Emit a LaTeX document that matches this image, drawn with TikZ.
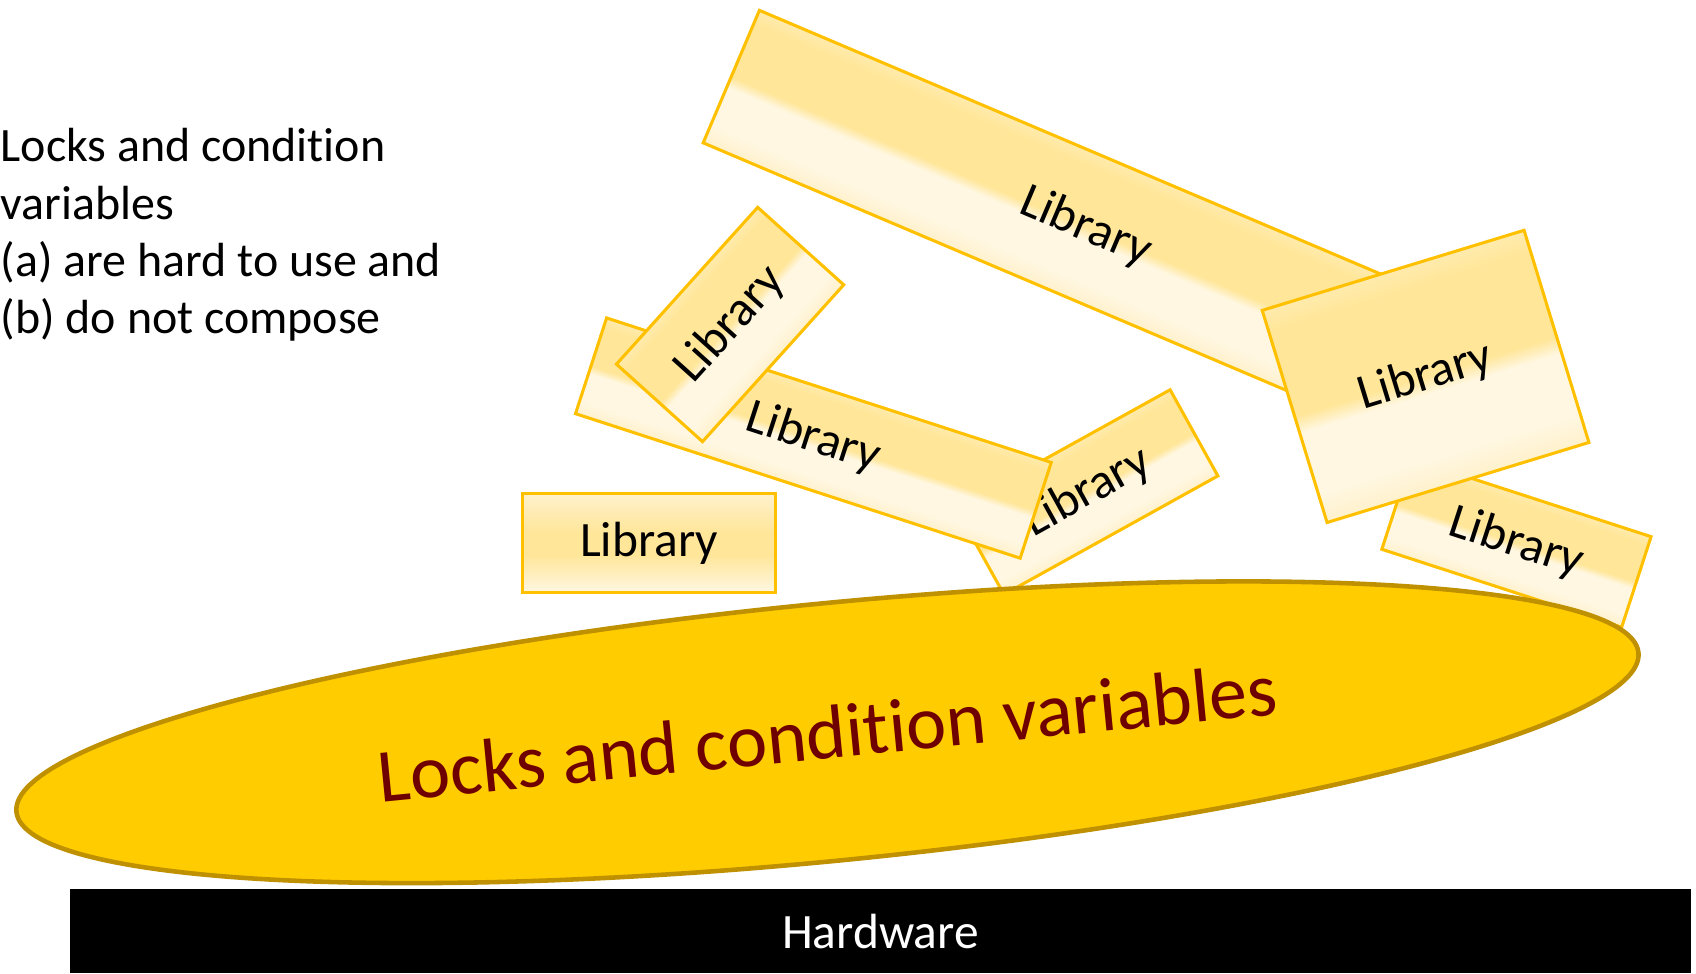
\documentclass[tikz,border=0pt]{standalone}
\usepackage{fontspec}
\setmainfont{Carlito}[Ligatures=NoCommon]
\usetikzlibrary{shapes.geometric}
\definecolor{libgold}{HTML}{FFE699}
\definecolor{libcream}{HTML}{FFF7E2}
\definecolor{libedge}{HTML}{FFF1CC}
\definecolor{libline}{HTML}{FFC000}
\definecolor{lockfill}{HTML}{FFCC00}
\definecolor{lockline}{HTML}{BF9000}
\definecolor{locktext}{HTML}{6E0000}
\pgfdeclareverticalshading{libshade}{100bp}{color(0bp)=(libedge); color(25bp)=(libedge);
  color(32bp)=(libcream); color(46bp)=(libcream); color(50bp)=(libgold); color(70bp)=(libgold);
  color(75bp)=(libgold!80!white); color(100bp)=(libgold!80!white)}
\pgfdeclareverticalshading{flatshade}{100bp}{color(0bp)=(libcream); color(25bp)=(libcream);
  color(44bp)=(libgold); color(55bp)=(libgold); color(75bp)=(libedge); color(100bp)=(libedge)}
\tikzset{
  libbox/.style={rectangle, draw=libline, line width=0.8pt, shading=libshade,
    inner sep=0pt, font=\fontsize{13}{15}\selectfont},
  lockpool/.style={ellipse, draw=lockline, line width=1.2pt, fill=lockfill, text=locktext,
    minimum width=15.06cm, minimum height=2.38cm, inner sep=0pt, font=\fontsize{20}{24}\selectfont},
  hwbar/.style={rectangle, fill=black, text=white, minimum width=14.98cm, minimum height=0.78cm,
    inner sep=0pt, font=\fontsize{13}{15}\selectfont},
  caption/.style={anchor=north west, align=left, inner sep=0pt, font=\fontsize{12.6}{15.1}\selectfont}
}
\begin{document}
\begin{tikzpicture}[x=0.01cm,y=-0.01cm]
\useasboundingbox (0,0) rectangle (1568,900);
\node[caption] (note) at (0,118) {Locks and condition\\variables\\(a) are hard to use and\\(b) do not compose};
\begin{scope}[transform canvas={rotate around={-23:(1004,210)}}]
\node[libbox, minimum width=7.12cm, minimum height=1.33cm] (libtop) at (1004,210) {Library};
\end{scope}
\begin{scope}[transform canvas={rotate around={29:(1005,455)}}]
\node[libbox, minimum width=2.26cm, minimum height=0.91cm] (libtilt) at (1005,455) {Library};
\end{scope}
\begin{scope}[transform canvas={rotate around={-18:(752,405)}}]
\node[libbox, minimum width=4.32cm, minimum height=0.93cm] (liblong) at (752,405) {Library};
\end{scope}
\begin{scope}[transform canvas={rotate around={48:(675,300)}}]
\node[libbox, minimum width=1.95cm, minimum height=1.07cm] (libsteep) at (675,300) {Library};
\end{scope}
\node[libbox, shading=flatshade, minimum width=2.33cm, minimum height=0.92cm] (libflat) at (600,502) {Library};
\begin{scope}[transform canvas={rotate around={-18:(1402,502)}}]
\node[libbox, minimum width=2.33cm, minimum height=0.88cm] (liblow) at (1402,502) {Library};
\end{scope}
\begin{scope}[transform canvas={rotate around={17:(1318,348)}}]
\node[libbox, minimum width=2.53cm, minimum height=2.05cm] (libsquare) at (1318,348) {Library};
\end{scope}
\node[lockpool, rotate=5.6] (locks) at (765,677) {Locks and condition variables};
\node[hwbar] (hw) at (814,861) {Hardware};
\end{tikzpicture}
\end{document}
